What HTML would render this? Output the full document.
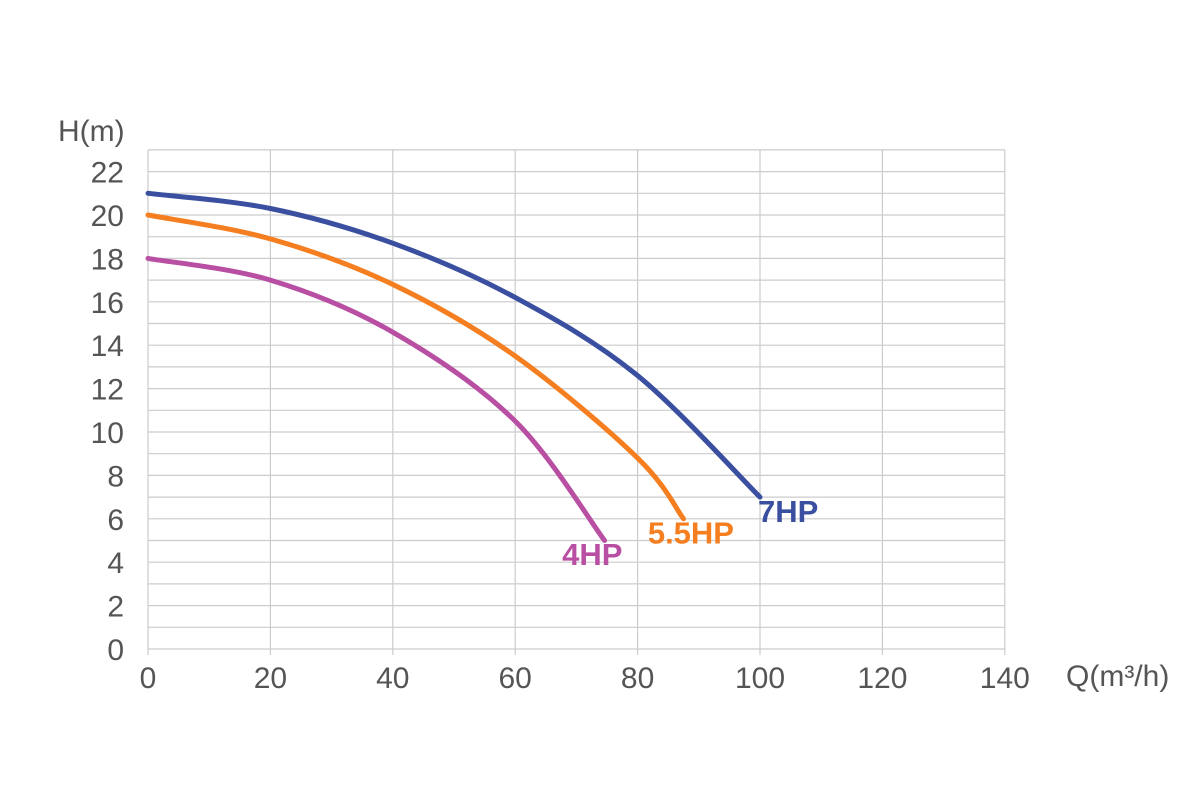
<!DOCTYPE html>
<html><head><meta charset="utf-8"><style>
body{margin:0;background:#fff;}
svg text{font-family:"Liberation Sans",sans-serif;}
</style></head><body>
<svg width="1200" height="800">
<g id="grid"></g>
<g id="axes"></g>
<g id="series"></g>
<text x="58" y="141" font-size="30" fill="#555">H(m)</text>
<text x="1066" y="686" font-size="30" fill="#555">Q(m³/h)</text>
</svg>
<script>
const xTicks=[0,20,40,60,80,100,120,140];
const yTicks=[0,2,4,6,8,10,12,14,16,18,20,22];
const seriesNames=["4HP","5.5HP","7HP"];
const colors=["#b84fa3","#f57f20","#3a4fa0"];
const q4=[0,20,40,60,74.6];   const h4=[18,17,14.6,10.5,5];
const q55=[0,20,40,60,80,87.5]; const h55=[20,18.9,16.8,13.5,8.8,6];
const q7=[0,20,40,60,80,100];  const h7=[21,20.3,18.7,16.2,12.6,7];
const labelPos=[[68,4],[82,5],[100,6]];
const X=v=>148+v*6.12, Y=v=>649-v*21.7;
const NS="http://www.w3.org/2000/svg";
function mk(t,a,p){const e=document.createElementNS(NS,t);for(const k in a)e.setAttribute(k,a[k]);p.appendChild(e);return e;}
const g=document.getElementById('grid'),ax=document.getElementById('axes'),s=document.getElementById('series');
for(let v=0;v<=23;v++){const l=mk('line',{x1:X(0),x2:X(140),y1:Y(v),y2:Y(v),stroke:'#ccc','stroke-width':1.2},g);

}
xTicks.forEach(v=>{const l=mk('line',{x1:X(v),x2:X(v),y1:Y(23),y2:Y(0)+6,stroke:'#ccc','stroke-width':1.2},g);


const t=mk('text',{x:X(v),y:688,'font-size':30,fill:'#555','text-anchor':'middle'},ax);t.textContent=v;

});
yTicks.forEach(v=>{const t=mk('text',{x:124,y:Y(v)+11,'font-size':30,fill:'#555','text-anchor':'end'},ax);t.textContent=v;

});
function path(qs,hs){const p=qs.map((q,i)=>[X(q),Y(hs[i])]);let d='M'+p[0].join(',');
for(let i=0;i<p.length-1;i++){const p0=p[Math.max(i-1,0)],p1=p[i],p2=p[i+1],p3=p[Math.min(i+2,p.length-1)];
d+=' C'+(p1[0]+(p2[0]-p0[0])/6)+','+(p1[1]+(p2[1]-p0[1])/6)+' '+(p2[0]-(p3[0]-p1[0])/6)+','+(p2[1]-(p3[1]-p1[1])/6)+' '+p2[0]+','+p2[1];}return d;}
[[q4,h4],[q55,h55],[q7,h7]].forEach((d,i)=>{const e=mk('path',{d:path(d[0],d[1]),fill:'none',stroke:colors[i],'stroke-width':5,'stroke-linecap':'round'},s);


const t=mk('text',{x:X(labelPos[i][0])-2,y:Y(labelPos[i][1])+3,'font-size':31,'font-weight':'bold',fill:colors[i]},s);t.textContent=seriesNames[i];

});
</script>
</body></html>
